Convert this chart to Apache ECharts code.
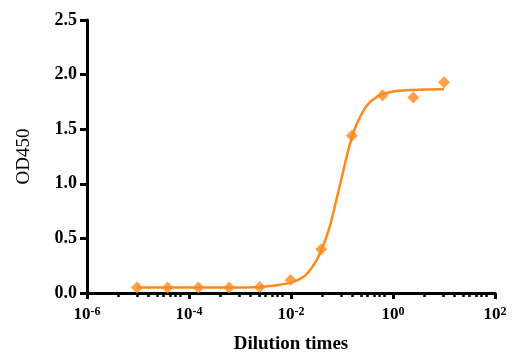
<!DOCTYPE html>
<html><head><meta charset="utf-8">
<script src="https://cdn.jsdelivr.net/npm/echarts@6/dist/echarts.min.js"></script>
<style>html,body{margin:0;padding:0;background:#fff}#c{width:521px;height:359px}</style>
</head><body><div id="c"></div>
<script>
// measured points
const dilution = [9.54e-6, 3.81e-5, 1.53e-4, 6.10e-4, 2.44e-3, 9.77e-3, 0.0391, 0.156, 0.625, 2.5, 10];
const od450 = [0.05, 0.05, 0.05, 0.05, 0.055, 0.12, 0.40, 1.44, 1.81, 1.79, 1.93];
// fitted curve
const fitX = [9.54e-6, 1e-4, 1e-3, 3e-3, 6e-3, 0.01, 0.015, 0.02, 0.03, 0.039, 0.05, 0.06, 0.08, 0.1, 0.13, 0.16, 0.2, 0.3, 0.5, 1, 2.5, 10];
const fitY = [0.05, 0.05, 0.051, 0.058, 0.075, 0.095, 0.13, 0.17, 0.28, 0.39, 0.52, 0.64, 0.88, 1.07, 1.29, 1.44, 1.56, 1.71, 1.80, 1.845, 1.86, 1.865];
// ticks
const xTickExps = ['-6', '-4', '-2', '0', '2'];
const xMajorVals = [1e-6, 1e-4, 1e-2, 1, 100];
const minorOffsets = [0.62, 0.98, 1.21, 1.37, 1.50, 1.63, 1.73, 1.83];
const yTicks = ['0.0', '0.5', '1.0', '1.5', '2.0', '2.5'];

const minorVals = [];
xMajorVals.slice(0, -1).forEach(m => minorOffsets.forEach(o => minorVals.push(m * Math.pow(10, o))));

const orange = '#FF8A1C';
const font = 'Liberation Serif';
const chart = echarts.init(document.getElementById('c'));
chart.setOption({
  animation: false,
  backgroundColor: '#fff',
  grid: { left: 87, right: 26, top: 20, bottom: 66 },
  xAxis: [{
    type: 'log', logBase: 10, min: 1e-6, max: 100, interval: 2,
    name: 'Dilution times', nameLocation: 'middle', nameGap: 42,
    nameTextStyle: { fontFamily: font, fontWeight: 'bold', fontSize: 19, color: '#000' },
    axisLine: { lineStyle: { color: '#000', width: 3 } },
    axisTick: { length: 6, lineStyle: { color: '#000', width: 3 } },
    splitLine: { show: false },
    axisLabel: {
      margin: 13,
      formatter: v => {
        const i = xMajorVals.findIndex(m => Math.abs(Math.log10(m) - Math.log10(v)) < 1e-6);
        return i < 0 ? '' : '{b|10}{s|' + xTickExps[i] + '}';
      },
      rich: {
        b: { fontFamily: font, fontWeight: 'bold', fontSize: 17, color: '#000', lineHeight: 18 },
        s: { fontFamily: font, fontWeight: 'bold', fontSize: 12, color: '#000', verticalAlign: 'top', lineHeight: 18, padding: [0, 0, 6, 0] }
      }
    }
  }, {
    type: 'log', logBase: 10, min: 1e-6, max: 100, gridIndex: 0, position: 'bottom',
    axisLine: { show: false },
    axisLabel: { show: false },
    splitLine: { show: false },
    axisTick: { show: true, length: 4, customValues: minorVals, lineStyle: { color: '#000', width: 2.5 } }
  }],
  yAxis: {
    type: 'value', min: 0, max: 2.5, interval: 0.5,
    name: 'OD450', nameLocation: 'middle', nameGap: 53,
    nameTextStyle: { fontFamily: font, fontSize: 19, color: '#000' },
    axisLine: { show: true, lineStyle: { color: '#000', width: 3 } },
    axisTick: { show: true, length: 7, lineStyle: { color: '#000', width: 3 } },
    splitLine: { show: false },
    axisLabel: {
      margin: 10,
      formatter: (v) => yTicks[Math.round(v / 0.5)],
      fontFamily: font, fontWeight: 'bold', fontSize: 18, color: '#000'
    }
  },
  series: [{
    type: 'line', xAxisIndex: 0,
    data: fitX.map((x, i) => [x, fitY[i]]),
    smooth: 0.3, showSymbol: false, symbol: 'none',
    lineStyle: { color: orange, width: 2.5 }, z: 2
  }, {
    type: 'scatter', xAxisIndex: 0,
    data: dilution.map((x, i) => [x, od450[i]]),
    symbol: 'diamond', symbolSize: 12,
    itemStyle: { color: orange }, z: 3
  }]
});
</script></body></html>
